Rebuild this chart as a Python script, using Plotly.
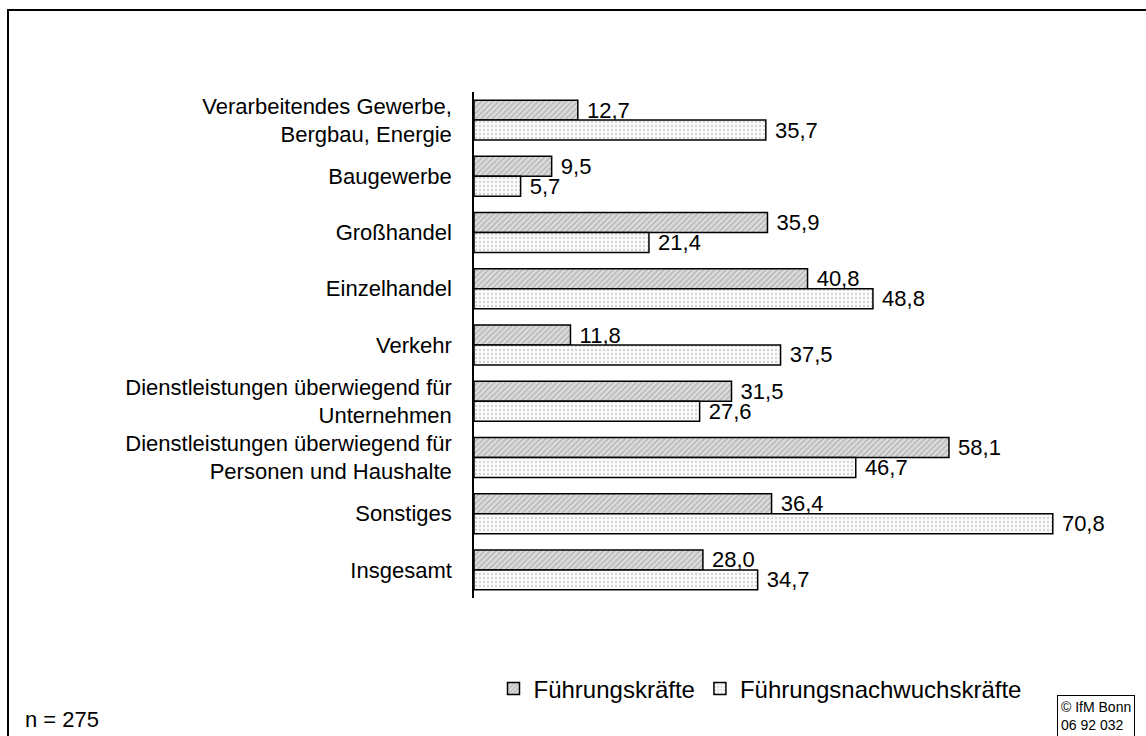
import plotly.graph_objects as go

categories = [
    "Verarbeitendes Gewerbe,<br>Bergbau, Energie",
    "Baugewerbe",
    "Großhandel",
    "Einzelhandel",
    "Verkehr",
    "Dienstleistungen überwiegend für<br>Unternehmen",
    "Dienstleistungen überwiegend für<br>Personen und Haushalte",
    "Sonstiges",
    "Insgesamt",
]
fuehrungskraefte = [12.7, 9.5, 35.9, 40.8, 11.8, 31.5, 58.1, 36.4, 28.0]
nachwuchs = [35.7, 5.7, 21.4, 48.8, 37.5, 27.6, 46.7, 70.8, 34.7]
series_names = ["Führungskräfte", "Führungsnachwuchskräfte"]

W, H = 1146, 736
L, R, T, B = 474, 18, 92, 138
pw, ph = W - L - R, H - T - B

def px(x):
    return (x - L) / pw

def py(y):
    return (H - B - y) / ph

FONT = "Liberation Sans, Arial, sans-serif"

fig = go.Figure()
fig.add_trace(go.Bar(
    y=categories, x=fuehrungskraefte, orientation="h", name=series_names[0],
    marker=dict(color="#dcdcdc", line=dict(color="black", width=1.5),
                pattern=dict(shape="/", fgcolor="#8a8a8a", size=4, solidity=0.35)),
    texttemplate=" %{x:.1f}", textposition="outside", cliponaxis=False,
    constraintext="none",
    textfont=dict(size=22, color="black", family=FONT),
))
fig.add_trace(go.Bar(
    y=categories, x=nachwuchs, orientation="h", name=series_names[1],
    marker=dict(color="#fbfbfb", line=dict(color="black", width=1.5),
                pattern=dict(shape=".", fgcolor="#a8a8a8", size=4, solidity=0.25)),
    texttemplate=" %{x:.1f}", textposition="outside", cliponaxis=False,
    constraintext="none",
    textfont=dict(size=22, color="black", family=FONT),
))

fig.update_layout(
    width=W, height=H,
    margin=dict(l=L, r=R, t=T, b=B, autoexpand=False),
    paper_bgcolor="white", plot_bgcolor="white",
    barmode="group", bargap=0.29, bargroupgap=0.0,
    separators=", ",
    font=dict(family=FONT, size=22, color="black"),
    uniformtext=dict(mode="show", minsize=22),
    showlegend=True,
    legend=dict(orientation="h", x=px(760), xanchor="center", y=py(689), yanchor="middle",
                font=dict(size=24), itemwidth=30, tracegroupgap=0, bgcolor="rgba(0,0,0,0)"),
    xaxis=dict(range=[0, 80], showgrid=False, showticklabels=False, zeroline=False,
               showline=False, ticks=""),
    yaxis=dict(autorange="reversed", showgrid=False, showline=True, linecolor="black",
               linewidth=1.5, ticks="", ticklabelstandoff=16, tickfont=dict(size=22)),
    shapes=[dict(type="rect", xref="paper", yref="paper",
                 x0=px(8), x1=px(1152), y0=py(742), y1=py(10),
                 line=dict(color="black", width=2), fillcolor="rgba(0,0,0,0)", layer="below")],
    annotations=[
        dict(text="n = 275", xref="paper", yref="paper", x=px(23), y=py(719),
             xanchor="left", yanchor="middle", showarrow=False, font=dict(size=22)),
        dict(text="© IfM Bonn<br>06 92 032", xref="paper", yref="paper", x=px(1057), y=py(695),
             xanchor="left", yanchor="top", showarrow=False, align="left",
             font=dict(size=14), bordercolor="black", borderwidth=1, borderpad=3,
             bgcolor="white"),
    ],
)

fig.write_html("out.html", config={"displayModeBar": False},
               post_script="document.body.style.margin='0';document.body.style.overflow='hidden';")
